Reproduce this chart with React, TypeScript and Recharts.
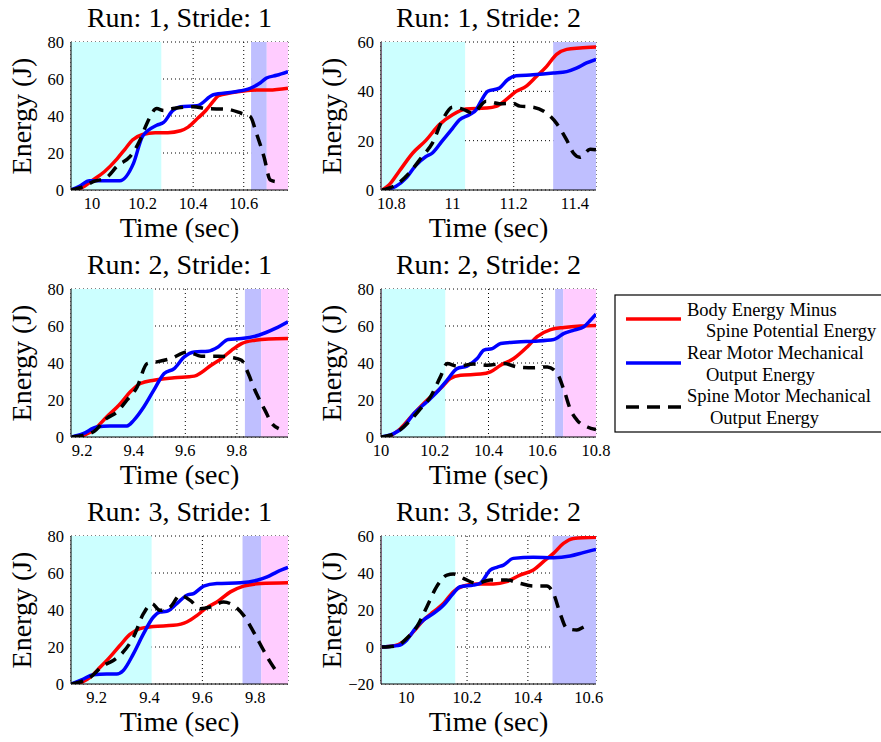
import React from 'react';
import { LineChart, Line, XAxis, YAxis, CartesianGrid, ReferenceArea } from 'recharts';

// ---------- DATA: [time (sec), energy (J)] ----------
const r1s1Body = [[9.94,0],[9.97,2],[10.0,5],[10.05,10],[10.1,17],[10.13,22],[10.16,27],[10.2,30],[10.25,31],[10.3,31],[10.35,32],[10.38,34],[10.42,39],[10.45,43],[10.48,48],[10.5,51],[10.55,52.5],[10.6,53.5],[10.65,54],[10.7,54],[10.775,55]];
const r1s1Rear = [[9.917,0],[9.95,2],[9.99,5],[10.05,5],[10.11,5],[10.164,14.4],[10.2,29],[10.256,35],[10.283,36.5],[10.32,43],[10.35,45],[10.415,45.5],[10.48,51.5],[10.56,53],[10.626,55],[10.666,58],[10.69,60.5],[10.73,62],[10.775,64]];
const r1s1Spine = [[9.917,0],[9.96,1.5],[10.005,4.5],[10.06,7],[10.1,13],[10.15,18],[10.19,27],[10.217,36],[10.256,44],[10.283,43],[10.32,44],[10.4,45],[10.455,44],[10.53,43.7],[10.59,41.5],[10.626,39.7],[10.65,30.7],[10.68,18],[10.705,5.4],[10.73,4.5],[10.75,5.8]];

const r1s2Body = [[10.77,0],[10.792,2],[10.825,7.5],[10.87,15],[10.912,20],[10.956,26.4],[11.0,30.5],[11.044,32.8],[11.11,33.2],[11.142,33.9],[11.175,36.6],[11.208,40],[11.24,42],[11.274,46],[11.307,50],[11.34,55],[11.373,57],[11.416,57.6],[11.469,58]];
const r1s2Rear = [[10.772,0],[10.814,1.4],[10.847,4.7],[10.88,10],[10.912,13.5],[10.934,15],[10.967,20],[11.0,25],[11.022,28.4],[11.055,30.5],[11.077,32.5],[11.093,36],[11.115,40],[11.153,41.3],[11.18,44.7],[11.208,46.3],[11.263,46.7],[11.329,47.4],[11.373,48],[11.405,49.4],[11.438,51.5],[11.469,53]];
const r1s2Spine = [[10.77,0],[10.814,2],[10.858,6.8],[10.9,13.5],[10.934,19],[10.967,28.4],[11.0,33.6],[11.033,32.8],[11.066,31.2],[11.11,36],[11.153,35],[11.197,35.2],[11.22,34],[11.263,33.6],[11.307,31.2],[11.34,27],[11.373,20.3],[11.395,15],[11.416,13.3],[11.45,16.5],[11.469,16.3]];

const r2s1Body = [[9.19,0],[9.243,3.6],[9.295,10.8],[9.348,18],[9.387,24.4],[9.426,28.9],[9.478,30.7],[9.557,32],[9.635,32.9],[9.661,34.7],[9.7,38.8],[9.74,42.4],[9.78,47],[9.818,50.5],[9.87,52.3],[9.923,53],[9.998,53.2]];
const r2s1Rear = [[9.16,0],[9.204,1.8],[9.256,5.4],[9.308,6],[9.374,6],[9.4,9],[9.439,16.2],[9.478,25.3],[9.518,34.3],[9.557,37],[9.596,43.3],[9.635,46],[9.688,46.4],[9.727,48.7],[9.766,52.7],[9.818,53.2],[9.884,55],[9.949,58.7],[9.998,62.3]];
const r2s1Spine = [[9.16,0],[9.243,2.7],[9.295,10],[9.335,13.5],[9.374,20],[9.413,27],[9.452,39.7],[9.49,40.6],[9.544,42.4],[9.609,46],[9.661,43.7],[9.727,43.7],[9.78,43],[9.818,41.5],[9.844,34.3],[9.87,25.3],[9.909,14.4],[9.936,7.2],[9.962,4.5]];

const r2s2Body = [[10.029,0],[10.072,4.5],[10.122,12.6],[10.171,19.9],[10.221,26.2],[10.258,31.6],[10.296,33.4],[10.37,34],[10.407,35.2],[10.445,38.8],[10.494,42.4],[10.544,48.7],[10.581,54.2],[10.631,58],[10.681,59.2],[10.743,60],[10.8,60.3]];
const r2s2Rear = [[10.0,0],[10.047,1.8],[10.084,5.4],[10.122,12.6],[10.171,19],[10.209,24.4],[10.246,30.7],[10.283,37],[10.32,38.3],[10.358,42.4],[10.383,47],[10.414,47.8],[10.445,50.5],[10.507,51.4],[10.569,51.8],[10.643,52.7],[10.681,56],[10.718,57.8],[10.755,59.6],[10.78,63.2],[10.8,66.4]];
const r2s2Spine = [[10.0,0],[10.06,2.7],[10.109,9],[10.147,15.3],[10.184,21.7],[10.221,32.5],[10.246,39.7],[10.283,38.3],[10.345,39.4],[10.395,38.8],[10.457,39.7],[10.507,37.9],[10.569,37.4],[10.619,37.9],[10.656,34.3],[10.681,25.3],[10.706,14.4],[10.73,9],[10.768,5.4],[10.8,4]];

const r3s1Body = [[9.13,0],[9.175,3.6],[9.213,9],[9.25,14.5],[9.288,20.8],[9.326,26.8],[9.364,29.9],[9.415,31.1],[9.49,31.7],[9.541,33.5],[9.58,37.1],[9.617,41.3],[9.655,44.3],[9.706,49.8],[9.756,52.9],[9.82,54.3],[9.924,54.7]];
const r3s1Rear = [[9.105,0],[9.15,2.7],[9.187,5],[9.238,5.4],[9.276,5.4],[9.3,7.2],[9.339,16.3],[9.377,27.1],[9.415,36.2],[9.44,38.9],[9.465,39.3],[9.503,43.4],[9.541,48],[9.567,48.9],[9.605,52.9],[9.655,54.3],[9.744,54.7],[9.807,56.1],[9.845,57.9],[9.883,60.6],[9.924,63]];
const r3s1Spine = [[9.105,0],[9.175,3.6],[9.225,10],[9.263,12.7],[9.3,17.2],[9.339,25.3],[9.377,38],[9.409,43.4],[9.44,39.8],[9.478,41.6],[9.516,48],[9.554,45.2],[9.592,40.7],[9.63,41.6],[9.68,44.3],[9.718,42.5],[9.756,37.1],[9.794,28.1],[9.832,18.1],[9.857,11.8],[9.883,6.3]];

const r3s2Body = [[9.92,0],[9.958,0.5],[9.991,2.9],[10.024,8.3],[10.057,14.6],[10.09,19.1],[10.123,23.6],[10.155,29.9],[10.188,33],[10.232,34],[10.287,34],[10.33,35.3],[10.374,38.9],[10.418,41.6],[10.451,46.1],[10.484,50.6],[10.517,56],[10.55,58.7],[10.624,59.3]];
const r3s2Rear = [[9.92,0],[9.958,0.5],[9.98,1.1],[10.002,3.8],[10.03,10.1],[10.057,14.6],[10.09,18.2],[10.123,22.7],[10.155,29],[10.177,32.6],[10.221,33.5],[10.243,34.4],[10.276,41.6],[10.298,43.1],[10.32,44.3],[10.352,47.9],[10.418,48.5],[10.484,48.3],[10.539,49.2],[10.582,51],[10.624,52.8]];
const r3s2Spine = [[9.92,0],[9.969,0.7],[10.002,4.7],[10.035,11],[10.068,21.8],[10.1,32.6],[10.134,38.9],[10.155,39.5],[10.188,37.1],[10.232,34.4],[10.276,36.2],[10.33,36.2],[10.374,34.4],[10.418,33],[10.462,33],[10.484,29],[10.506,18.2],[10.528,10.1],[10.561,9.2],[10.593,11.3],[10.604,10.1]];

// phase bands: [start, end, phase]
const r1s1Bands = [[9.917,10.274,'A'],[10.629,10.691,'B'],[10.691,10.775,'C']];
const r1s2Bands = [[10.766,10.769,'C'],[10.769,11.041,'A'],[11.329,11.469,'B']];
const r2s1Bands = [[9.157,9.476,'A'],[9.831,9.894,'B'],[9.894,9.998,'C']];
const r2s2Bands = [[10.0,10.003,'C'],[10.003,10.239,'A'],[10.648,10.678,'B'],[10.678,10.8,'C']];
const r3s1Bands = [[9.103,9.408,'A'],[9.752,9.823,'B'],[9.823,9.924,'C']];
const r3s2Bands = [[9.917,9.92,'C'],[9.92,10.161,'A'],[10.481,10.624,'B']];

const titles = ['Run: 1, Stride: 1','Run: 1, Stride: 2','Run: 2, Stride: 1','Run: 2, Stride: 2','Run: 3, Stride: 1','Run: 3, Stride: 2'];
const xDomains = [[9.917,10.775],[10.766,11.469],[9.157,9.998],[10.0,10.8],[9.103,9.924],[9.917,10.624]];
const xTicks = [[10,10.2,10.4,10.6],[10.8,11,11.2,11.4],[9.2,9.4,9.6,9.8],[10,10.2,10.4,10.6,10.8],[9.2,9.4,9.6,9.8],[10,10.2,10.4,10.6]];
const yDomains = [[0,80],[0,60],[0,80],[0,80],[0,80],[-20,60]];
const yTicks = [[0,20,40,60,80],[0,20,40,60],[0,20,40,60,80],[0,20,40,60,80],[0,20,40,60,80],[-20,0,20,40,60]];
const legendLabels = [['Body Energy Minus','Spine Potential Energy'],['Rear Motor Mechanical','Output Energy'],['Spine Motor Mechanical','Output Energy']];
const xLabel = 'Time (sec)';
const yLabel = 'Energy (J)';

// ---------- STYLE ----------
const FONT = "'Liberation Serif', 'Times New Roman', Times, serif";
const bandColor: Record<string, string> = { A: '#ccffff', B: '#bfbfff', C: '#ffccff' };
const seriesColor = ['#ff0000', '#0000ff', '#000000'];
const LW = 3.5;
const DASH = '12 8';

const bodySeries = [r1s1Body, r1s2Body, r2s1Body, r2s2Body, r3s1Body, r3s2Body];
const rearSeries = [r1s1Rear, r1s2Rear, r2s1Rear, r2s2Rear, r3s1Rear, r3s2Rear];
const spineSeries = [r1s1Spine, r1s2Spine, r2s1Spine, r2s2Spine, r3s1Spine, r3s2Spine];
const bandSets = [r1s1Bands, r1s2Bands, r2s1Bands, r2s2Bands, r3s1Bands, r3s2Bands];

const toObj = (arr: number[][]) => arr.map(([t, e]) => ({ t, e }));

const ROW_H = 247;
const PLOT_TOP = 42;
const PLOT_H = 148;
const colCfg = [
  { left: 0, width: 300, plotLeft: 71, plotRight: 288 },
  { left: 300, width: 330, plotLeft: 81, plotRight: 296 },
];
const Y_AXIS_W = 60;
const X_AXIS_H = 30;

const fmt = (v: number) => String(v).replace('-', '\u2212');

function Panel({ i }: { i: number }) {
  const col = i % 2;
  const row = Math.floor(i / 2);
  const c = colCfg[col];
  const margin = {
    top: PLOT_TOP,
    left: c.plotLeft - Y_AXIS_W,
    right: c.width - c.plotRight,
    bottom: ROW_H - PLOT_TOP - PLOT_H - X_AXIS_H,
  };
  const tickStyle = { fontSize: 16.5, fill: '#000', style: { fontFamily: FONT } };
  return (
    <div style={{ position: 'absolute', left: c.left, top: row * ROW_H, fontFamily: FONT }}>
      <LineChart width={c.width} height={ROW_H} margin={margin} style={{ overflow: 'visible', fontFamily: FONT }}>
        <XAxis
          type="number"
          dataKey="t"
          domain={xDomains[i]}
          ticks={xTicks[i]}
          allowDataOverflow
          height={X_AXIS_H}
          tickLine={false}
          tickSize={0}
          tickMargin={7}
          tick={tickStyle}
          tickFormatter={fmt}
          axisLine={{ stroke: '#000', strokeWidth: 1 }}
          interval={0}
        />
        <YAxis
          type="number"
          domain={yDomains[i]}
          ticks={yTicks[i]}
          allowDataOverflow
          width={Y_AXIS_W}
          tickLine={false}
          tickSize={0}
          tickMargin={7}
          tick={tickStyle}
          tickFormatter={fmt}
          axisLine={{ stroke: '#000', strokeWidth: 1 }}
          interval={0}
        />
        {bandSets[i].map((b, k) => (
          <ReferenceArea
            key={k}
            x1={b[0] as number}
            x2={b[1] as number}
            fill={bandColor[b[2] as string]}
            fillOpacity={1}
            stroke="none"
            ifOverflow="hidden"
          />
        ))}
        <CartesianGrid stroke="#000" strokeDasharray="1 3" strokeWidth={1} />
        <Line data={toObj(bodySeries[i])} dataKey="e" type="monotone" stroke={seriesColor[0]} strokeWidth={LW} dot={false} isAnimationActive={false} />
        <Line data={toObj(rearSeries[i])} dataKey="e" type="monotone" stroke={seriesColor[1]} strokeWidth={LW} dot={false} isAnimationActive={false} />
        <Line data={toObj(spineSeries[i])} dataKey="e" type="monotone" stroke={seriesColor[2]} strokeWidth={LW} strokeDasharray={DASH} dot={false} isAnimationActive={false} />
      </LineChart>
    </div>
  );
}

const textStyle = { fontFamily: FONT };

function Labels() {
  const items: React.ReactNode[] = [];
  for (let i = 0; i < 6; i++) {
    const col = i % 2;
    const row = Math.floor(i / 2);
    const c = colCfg[col];
    const pl = c.left + c.plotLeft;
    const pr = c.left + c.plotRight;
    const cx = (pl + pr) / 2;
    const pt = row * ROW_H + PLOT_TOP;
    const pb = pt + PLOT_H;
    const cy = (pt + pb) / 2;
    items.push(
      <text key={'t' + i} x={cx} y={pt - 15} textAnchor="middle" style={textStyle} fontSize={28} fill="#000">{titles[i]}</text>,
      <text key={'x' + i} x={cx} y={pb + 47} textAnchor="middle" style={textStyle} fontSize={28} fill="#000">{xLabel}</text>,
      <text key={'y' + i} x={pl - 40} y={cy} textAnchor="middle" style={textStyle} fontSize={28} fill="#000" transform={`rotate(-90 ${pl - 40} ${cy})`}>{yLabel}</text>
    );
  }
  return <>{items}</>;
}

function LegendBox() {
  const lineYs = [319, 363, 407];
  const baseYs = [[315.5, 337], [358.5, 380.5], [402, 423.5]];
  const indents = [[687, 706], [687, 706], [687, 710]];
  return (
    <g>
      <rect x={615} y={295} width={280} height={137} fill="#fff" stroke="#000" strokeWidth={1.2} />
      {lineYs.map((y, k) => (
        <line key={'l' + k} x1={626} x2={681} y1={y} y2={y} stroke={seriesColor[k]} strokeWidth={LW} strokeDasharray={k === 2 ? '13 8' : undefined} />
      ))}
      {legendLabels.map((pair, k) => (
        <g key={'g' + k}>
          <text x={indents[k][0]} y={baseYs[k][0]} style={textStyle} fontSize={18.5} fill="#000">{pair[0]}</text>
          <text x={indents[k][1]} y={baseYs[k][1]} style={textStyle} fontSize={18.5} fill="#000">{pair[1]}</text>
        </g>
      ))}
    </g>
  );
}

export default function App() {
  return (
    <div style={{ position: 'absolute', left: 0, top: 0, width: 881, height: 742, background: '#fff', overflow: 'hidden', fontFamily: FONT }}>
      {[0, 1, 2, 3, 4, 5].map((i) => <Panel key={i} i={i} />)}
      <svg width={881} height={742} style={{ position: 'absolute', left: 0, top: 0, pointerEvents: 'none' }}>
        <Labels />
        <LegendBox />
      </svg>
    </div>
  );
}
